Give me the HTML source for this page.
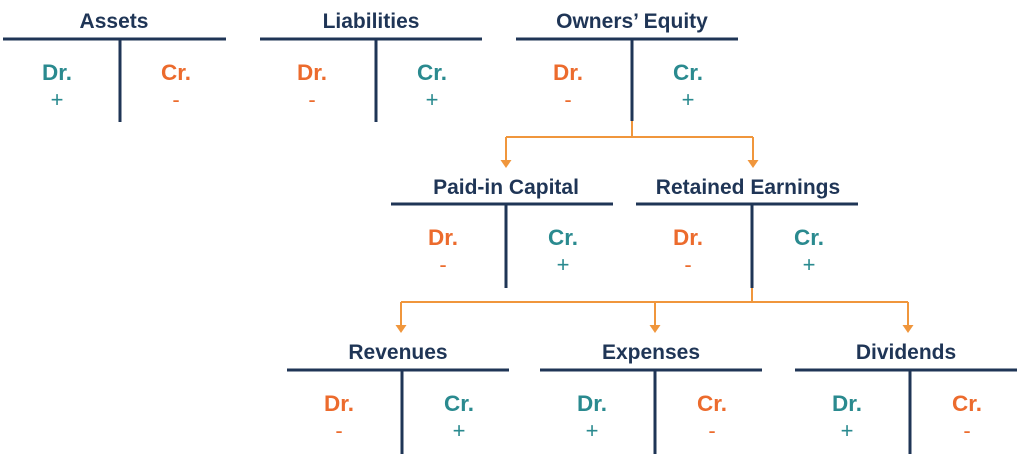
<!DOCTYPE html>
<html><head><style>html,body{margin:0;padding:0;background:#fff}svg{display:block}
text{font-family:"Liberation Sans",sans-serif;text-anchor:middle}
.t{font-size:21px;font-weight:bold;fill:#1f3556}
.l{font-size:22.5px;font-weight:bold}
.s{font-size:22px}
.g{fill:#2a8a8f}.o{fill:#ec6b2d}
</style></head><body>
<svg width="1024" height="458" viewBox="0 0 1024 458" xmlns="http://www.w3.org/2000/svg">
<g stroke="#f0963c" stroke-width="2" fill="none">
<path d="M632 120V137M506 137H753M506 137V163M753 137V163"/>
<path d="M752 287V302M401 302H908M401 302V328M655 302V328M908 302V328"/>
</g>
<g fill="#f0963c">
<path d="M500.5 160h11l-5.5 8z"/><path d="M747.5 160h11l-5.5 8z"/>
<path d="M395.5 325h11l-5.5 8z"/><path d="M649.5 325h11l-5.5 8z"/><path d="M902.5 325h11l-5.5 8z"/>
</g>
<g stroke="#1f3556" stroke-width="3">
<path d="M3 39H226M120 39V122"/>
<path d="M260 39H482M376 39V122"/>
<path d="M516 39H738M632 39V121"/>
<path d="M391 204H613M506 204V288"/>
<path d="M636 204H858M752 204V288"/>
<path d="M287 370H509M402 370V454"/>
<path d="M540 370H762M655 370V454"/>
<path d="M795 370H1017M910 370V454"/>
</g>
<text class="t" x="114" y="28">Assets</text>
<text class="t" x="371" y="28">Liabilities</text>
<text class="t" x="632" y="28">Owners’ Equity</text>
<text class="t" x="506" y="194">Paid-in Capital</text>
<text class="t" x="748" y="194">Retained Earnings</text>
<text class="t" x="398" y="359">Revenues</text>
<text class="t" x="651" y="359">Expenses</text>
<text class="t" x="906" y="359">Dividends</text>

<text class="l g" x="57" y="80">Dr.</text><text class="s g" x="57" y="107">+</text>
<text class="l o" x="176" y="80">Cr.</text><text class="s o" x="176" y="107">-</text>

<text class="l o" x="312" y="80">Dr.</text><text class="s o" x="312" y="107">-</text>
<text class="l g" x="432" y="80">Cr.</text><text class="s g" x="432" y="107">+</text>

<text class="l o" x="568" y="80">Dr.</text><text class="s o" x="568" y="107">-</text>
<text class="l g" x="688" y="80">Cr.</text><text class="s g" x="688" y="107">+</text>

<text class="l o" x="443" y="245">Dr.</text><text class="s o" x="443" y="272">-</text>
<text class="l g" x="563" y="245">Cr.</text><text class="s g" x="563" y="272">+</text>

<text class="l o" x="688" y="245">Dr.</text><text class="s o" x="688" y="272">-</text>
<text class="l g" x="809" y="245">Cr.</text><text class="s g" x="809" y="272">+</text>

<text class="l o" x="339" y="411">Dr.</text><text class="s o" x="339" y="438">-</text>
<text class="l g" x="459" y="411">Cr.</text><text class="s g" x="459" y="438">+</text>

<text class="l g" x="592" y="411">Dr.</text><text class="s g" x="592" y="438">+</text>
<text class="l o" x="712" y="411">Cr.</text><text class="s o" x="712" y="438">-</text>

<text class="l g" x="847" y="411">Dr.</text><text class="s g" x="847" y="438">+</text>
<text class="l o" x="967" y="411">Cr.</text><text class="s o" x="967" y="438">-</text>
</svg>
</body></html>
